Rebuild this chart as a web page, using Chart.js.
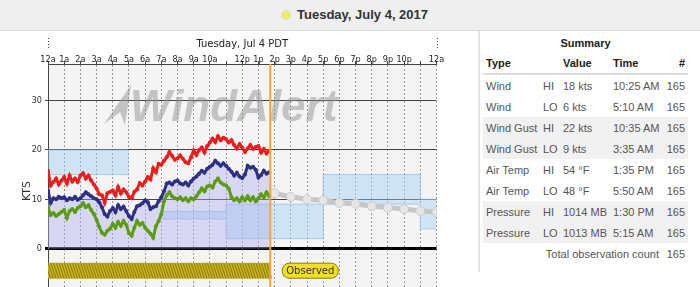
<!DOCTYPE html>
<html><head><meta charset="utf-8">
<script src="https://cdn.jsdelivr.net/npm/chart.js@4.4.1/dist/chart.umd.min.js"></script>
<style>
html,body{margin:0;padding:0;width:700px;height:287px;overflow:hidden;background:#fff;font-family:"Liberation Sans",Arial,sans-serif;}
#hdr{position:absolute;left:0;top:0;width:700px;height:30px;background:#efefef;border-bottom:1px solid #d9d9d9;}
#hdr .dot{position:absolute;left:281px;top:10px;width:8px;height:8px;border-radius:50%;background:#eeec6a;border:1px solid #e2e2a8;}
#hdr .t{position:absolute;left:297px;top:7px;font-weight:bold;font-size:13px;color:#333;white-space:nowrap;}
#chartBox{position:absolute;left:0;top:31px;width:476px;height:296px;}
#panel{position:absolute;left:478px;top:31px;width:220px;height:241px;border-left:2px solid #e4e4e4;}
#sum{position:absolute;left:483px;top:33px;border-collapse:collapse;table-layout:fixed;width:205px;font-size:11px;color:#555;}
#sum td,#sum th{padding:0;height:21px;white-space:nowrap;overflow:visible;}
#sum th{color:#222;font-weight:bold;text-align:left;}
#sum .cap th{text-align:center;height:20px;}
#sum .hd th{height:20px;border-bottom:2px solid #ddd;}
#sum .g td{background:#f1f1f1;}
#sum .c1{padding-left:3px;}
#sum .c2{padding-left:3px;}
#sum .c3{padding-left:3px;}
#sum .c4{padding-left:3px;}
#sum .c5{text-align:right;padding-right:3px;}
#sum .tot{text-align:right;padding-right:6px;}
</style>
</head><body>
<div id="hdr"><div class="dot"></div><div class="t">Tuesday, July 4, 2017</div></div>
<div id="chartBox"><canvas id="c" width="476" height="296"></canvas></div>
<div id="panel"></div>
<table id="sum"><colgroup><col style="width:57px"><col style="width:20px"><col style="width:50px"><col style="width:55px"><col style="width:23px"></colgroup><tbody id="sb"></tbody></table>
<script>
// ---- data ----
const hourTickLabels = ['12a','1a','2a','3a','4a','5a','6a','7a','8a','9a','10a','','12p','1p','2p','3p','4p','5p','6p','7p','8p','9p','10p','','12a'];
const yTickValues = [0,10,20,30];
const axisTitle = 'Tuesday, Jul 4 PDT';
const nowHour = 13.73;
const obsStepHours = 1/6;
const gustKts = [
15.8,12.8,13.5,14.2,13.0,13.8, 14.5,13.2,14.8,13.6,14.2,13.5, 14.8,15.3,14.2,14.8,13.8,13.0,
12.2,11.0,10.8,9.3,11.2,11.5, 11.8,10.8,12.5,11.2,12.0,11.4, 10.5,10.2,11.5,12.0,13.3,12.8,
13.6,14.5,14.0,16.3,15.5,17.2, 17.0,17.8,18.5,19.6,18.8,18.0, 18.3,18.9,18.2,17.5,17.3,18.5,
19.9,19.0,20.0,20.5,19.5,20.8, 21.5,22.3,21.6,22.8,22.0,22.5, 22.2,21.5,22.0,21.0,20.3,21.2,
20.5,19.6,20.3,21.0,20.2,20.6, 20.8,19.5,20.2,19.3,19.8];
const avgKts = [
11.8,9.3,10.2,10.0,10.5,10.2, 10.4,9.8,10.2,10.0,10.5,9.9, 10.2,10.8,11.4,11.0,10.6,10.2,
10.0,9.4,8.4,7.0,6.5,7.6, 8.2,7.4,8.8,8.0,8.5,7.6, 6.6,6.0,7.4,8.6,8.8,9.2,
9.8,9.4,8.0,8.4,8.6,9.6, 10.4,11.6,13.2,13.4,13.0,13.6, 13.8,13.2,13.0,13.4,12.8,13.6,
14.2,14.6,15.2,15.8,15.4,16.2, 16.6,17.0,17.8,17.3,16.8,17.3, 16.8,16.2,15.6,14.8,15.4,14.6,
14.3,15.0,16.8,16.4,16.6,16.0, 14.4,14.9,15.8,15.2,15.5];
const lullKts = [
8.4,6.8,7.2,6.6,7.0,7.4, 7.8,6.2,7.6,8.0,7.4,8.2, 8.6,9.2,8.4,8.8,7.8,7.0,
5.8,4.4,3.2,2.8,3.6,4.0, 5.0,4.2,5.4,4.6,5.6,4.8, 3.1,2.6,4.2,5.6,4.8,5.2,
4.2,3.6,3.0,2.2,4.5,5.6, 7.0,9.6,10.8,11.4,10.6,10.2, 10.0,10.4,9.8,10.2,9.6,10.2,
10.0,10.6,11.4,12.2,11.6,12.6, 12.8,12.4,13.6,14.2,13.4,13.0, 12.8,12.2,10.4,9.8,10.2,9.6,
10.4,9.8,10.6,9.8,10.4,9.6, 10.2,11.0,10.4,11.4,10.6];
const fcHours = [13.73,14,15,16,17,18,19,20,21,22,23,24];
const fcKts   = [11.4,11.2,10.5,10.0,9.8,9.25,9.1,8.6,8.3,8.0,7.6,7.4];
const bandFrom = [0,7,11,17,23];
const bandTo   = [5,11,17,23,24];
const bandLow  = [15,6,2,9,4];
const bandHigh = [20,7.5,9,15,10];

const summaryTypes  = ['Wind','Wind','Wind Gust','Wind Gust','Air Temp','Air Temp','Pressure','Pressure'];
const summaryHiLo   = ['HI','LO','HI','LO','HI','LO','HI','LO'];
const summaryValues = ['18 kts','6 kts','22 kts','9 kts','54 °F','48 °F','1014 MB','1013 MB'];
const summaryTimes  = ['10:25 AM','5:10 AM','10:35 AM','3:35 AM','1:35 PM','5:50 AM','1:30 PM','5:15 AM'];
const summaryCounts = [165,165,165,165,165,165,165,165];
const totalCount = 165;

// ---- table ----
let h = '<tr class="cap"><th colspan="5">Summary</th></tr>';
h += '<tr class="hd"><th class="c1">Type</th><th></th><th class="c3">Value</th><th class="c4">Time</th><th class="c5">#</th></tr>';
summaryTypes.forEach((t,i)=>{
  const g = (Math.floor(i/2)%2===1) ? ' class="g"' : '';
  h += `<tr${g}><td class="c1">${t}</td><td class="c2">${summaryHiLo[i]}</td><td class="c3">${summaryValues[i]}</td><td class="c4">${summaryTimes[i]}</td><td class="c5">${summaryCounts[i]}</td></tr>`;
});
h += `<tr><td colspan="4" class="tot">Total observation count</td><td class="c5">${totalCount}</td></tr>`;
document.getElementById('sb').innerHTML = h;

// ---- chart data ----
const obsHours = gustKts.map((_,i)=>i*obsStepHours);
const pts = arr => arr.map((v,i)=>({x:obsHours[i], y:v}));
function bandPts(vals){
  const out=[];
  for(let i=0;i<bandFrom.length;i++){
    out.push({x:bandFrom[i], y:vals[i]});
    const last = i===bandFrom.length-1;
    if(last || bandFrom[i+1]!==bandTo[i]){
      out.push({x:bandTo[i], y:vals[i]});
      if(!last) out.push({x:bandTo[i], y:null});
    }
  }
  return out;
}
const Y_MIN=-14.1, Y_MAX=37.45, STRIP_Y=-4.5;

const bgPlugin = {id:'bg', beforeDraw(chart){
  const {ctx, chartArea:a} = chart;
  ctx.save(); ctx.fillStyle='#f4f4f4'; ctx.fillRect(a.left,a.top,a.right-a.left,a.bottom-a.top); ctx.restore();
}};
const wmPlugin = {id:'wm', beforeDatasetsDraw(chart){
  const {ctx, chartArea:a} = chart;
  ctx.save();
  ctx.fillStyle='rgba(145,145,145,0.5)';
  ctx.beginPath();
  ctx.moveTo(a.left+83,a.top+21); ctx.lineTo(a.left+56,a.top+60); ctx.lineTo(a.left+72,a.top+48); ctx.lineTo(a.left+77,a.top+61); ctx.closePath(); ctx.fill();
  ctx.font='italic bold 44px "Liberation Sans"';
  ctx.fillText('WindAlert', a.left+82, a.top+57);
  ctx.restore();
}};
const decoPlugin = {id:'deco', afterDraw(chart){
  const {ctx, chartArea:a, scales:{x,y}} = chart;
  ctx.save();
  ctx.strokeStyle='#444'; ctx.lineWidth=1; ctx.setLineDash([1,2]);
  [x.getPixelForValue(0), x.getPixelForValue(24)].forEach(px=>{
    ctx.beginPath(); ctx.moveTo(Math.round(px)+0.5,a.top-26); ctx.lineTo(Math.round(px)+0.5,a.top-15); ctx.stroke();
  });
  ctx.setLineDash([]);
  const cx = x.getPixelForValue(nowHour)+12, cy = y.getPixelForValue(STRIP_Y);
  const w=56, hh=15, r=7;
  ctx.beginPath();
  ctx.roundRect(cx, cy-hh/2, w, hh, r);
  ctx.fillStyle='#f3df1c'; ctx.fill();
  ctx.strokeStyle='#8a7a10'; ctx.lineWidth=1; ctx.stroke();
  ctx.fillStyle='#333'; ctx.font='10px "DejaVu Sans"'; ctx.textAlign='center'; ctx.textBaseline='middle';
  ctx.fillText('Observed', cx+w/2, cy+0.5);
  ctx.restore();
}};

const lineDs = (data,color)=>({data, borderColor:color, backgroundColor:color, borderWidth:3, pointRadius:2, pointBorderWidth:0, pointBackgroundColor:color, tension:0, fill:false});

new Chart(document.getElementById('c'), {
  type:'line',
  data:{datasets:[
    {data:[{x:nowHour,y:Y_MIN},{x:nowHour,y:Y_MAX}], borderColor:'#f2a43a', borderWidth:2, pointRadius:0, fill:false},
    lineDs(pts(gustKts),'#ee1c1c'),
    lineDs(pts(avgKts),'#2e3082'),
    lineDs(pts(lullKts),'#5d9c12'),
    {data:obsHours.map(t=>({x:t,y:STRIP_Y})), showLine:false, pointStyle:'line', pointRotation:72, pointRadius:8, pointBorderWidth:1, pointBorderColor:'rgba(85,72,0,0.55)', pointBackgroundColor:'rgba(0,0,0,0)'},
    {data:[{x:0,y:STRIP_Y},{x:nowHour,y:STRIP_Y}], borderColor:'#c9b41c', borderWidth:16, borderCapStyle:'butt', pointRadius:0, fill:false},
    {data:fcHours.map((t,i)=>({x:t,y:fcKts[i]})), borderColor:'#c6c6c6', borderWidth:5, pointRadius:fcHours.map((_,i)=>i===0?0:4.5), pointBackgroundColor:'#e6e6e6', pointBorderColor:'#cccccc', pointBorderWidth:1, fill:false},
    {data:pts(avgKts), borderWidth:0, borderColor:'rgba(0,0,0,0)', pointRadius:0, fill:'origin', backgroundColor:'rgba(175,175,240,0.42)'},
    {data:bandPts(bandHigh), stepped:'before', borderColor:'rgba(140,190,235,0.75)', borderWidth:1, pointRadius:0, spanGaps:false, fill:'+1', backgroundColor:'rgba(160,205,240,0.42)'},
    {data:bandPts(bandLow), stepped:'before', borderColor:'rgba(140,190,235,0.75)', borderWidth:1, pointRadius:0, spanGaps:false, fill:false}
  ]},
  options:{
    responsive:false, animation:false, maintainAspectRatio:false,
    layout:{padding:{left:0,right:39.5,top:0,bottom:0}},
    plugins:{legend:{display:false}, tooltip:{enabled:false}},
    scales:{
      x:{type:'linear', position:'top', min:0, max:24,
        afterBuildTicks:s=>{s.ticks=hourTickLabels.map((_,i)=>({value:i}));},
        afterFit:s=>{s.height=33; s.paddingLeft=0; s.paddingRight=0; s.paddingTop=0; s.paddingBottom=0;},
        ticks:{autoSkip:false, maxRotation:0, minRotation:0, padding:-4, color:'#222',
          font:{family:'"DejaVu Sans Condensed","DejaVu Sans"', size:9},
          callback:(v,i)=>hourTickLabels[i]},
        grid:{color:'#9c9c9c', lineWidth:1, tickLength:3, tickColor:'#444', tickBorderDash:[]},
        border:{display:true, color:'#444', width:1, dash:[2,2]},
        title:{display:true, text:axisTitle, padding:{top:7,bottom:0}, color:'#222', font:{family:'"DejaVu Sans"', size:10}}
      },
      y:{min:Y_MIN, max:Y_MAX,
        afterBuildTicks:s=>{s.ticks=yTickValues.map(v=>({value:v}));},
        afterFit:s=>{s.width=48; s.paddingTop=0; s.paddingBottom=0; s.paddingLeft=0; s.paddingRight=0;},
        ticks:{padding:3, color:'#333', font:{family:'"DejaVu Sans Condensed","DejaVu Sans"', size:9}},
        grid:{color:c=>(c.tick&&c.tick.value===0)?'#000':'#444', lineWidth:c=>(c.tick&&c.tick.value===0)?3:1, tickLength:3},
        border:{display:true, color:'#444', width:1},
        title:{display:true, text:'KTS', padding:{top:21,bottom:0}, color:'#333', font:{family:'"DejaVu Sans"', size:11}}
      }
    }
  },
  plugins:[bgPlugin, wmPlugin, decoPlugin]
});
</script>
</body></html>
